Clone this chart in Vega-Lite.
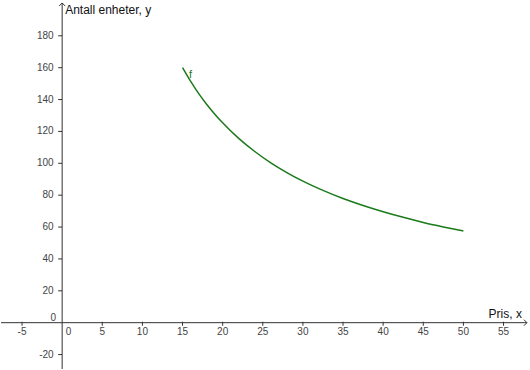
{
  "$schema": "https://vega.github.io/schema/vega-lite/v6.json",
  "width": 530,
  "height": 370,
  "autosize": {"type": "fit", "contains": "padding"},
  "padding": 0,
  "background": "white",
  "config": {"view": {"stroke": null}},
  "datasets": {
    "axisX": [{"x": -7.62, "x2": 57.92, "y": 0}],
    "axisY": [{"x": 0, "y": -29.06, "y2": 200.6}],
    "arrowX": [{"x": 57.92, "y": 0}],
    "arrowY": [{"x": 0, "y": 200.6}],
    "xTicks": [{"x": -5, "y": 0, "label": "-5"}, {"x": 5, "y": 0, "label": "5"}, {"x": 10, "y": 0, "label": "10"}, {"x": 15, "y": 0, "label": "15"}, {"x": 20, "y": 0, "label": "20"}, {"x": 25, "y": 0, "label": "25"}, {"x": 30, "y": 0, "label": "30"}, {"x": 35, "y": 0, "label": "35"}, {"x": 40, "y": 0, "label": "40"}, {"x": 45, "y": 0, "label": "45"}, {"x": 50, "y": 0, "label": "50"}, {"x": 55, "y": 0, "label": "55"}],
    "yTicks": [{"x": 0, "y": -20, "label": "-20"}, {"x": 0, "y": 20, "label": "20"}, {"x": 0, "y": 40, "label": "40"}, {"x": 0, "y": 60, "label": "60"}, {"x": 0, "y": 80, "label": "80"}, {"x": 0, "y": 100, "label": "100"}, {"x": 0, "y": 120, "label": "120"}, {"x": 0, "y": 140, "label": "140"}, {"x": 0, "y": 160, "label": "160"}, {"x": 0, "y": 180, "label": "180"}],
    "origin": [{"x": 0, "y": 0, "label": "0"}],
    "curve": [
      {"x": 15, "y": 160.1}, {"x": 16, "y": 151.6}, {"x": 17, "y": 143.9}, {"x": 18, "y": 137.1},
      {"x": 19, "y": 131.0}, {"x": 20, "y": 125.4}, {"x": 22, "y": 115.6}, {"x": 24, "y": 107.4},
      {"x": 26, "y": 100.3}, {"x": 28, "y": 94.2}, {"x": 30, "y": 88.8}, {"x": 32.5, "y": 83.0},
      {"x": 35, "y": 77.9}, {"x": 37.5, "y": 73.5}, {"x": 40, "y": 69.6}, {"x": 42.5, "y": 66.1},
      {"x": 45, "y": 62.9}, {"x": 47.5, "y": 60.1}, {"x": 50, "y": 57.5}
    ],
    "fLabel": [{"x": 15, "y": 160.1, "label": "f"}],
    "xTitle": [{"x": 57.92, "y": 0, "label": "Pris, x"}],
    "yTitle": [{"x": 0, "y": 200.6, "label": "Antall enheter, y"}]
  },
  "encoding": {
    "x": {"field": "x", "type": "quantitative", "scale": {"domain": [-7.62, 58.3], "nice": false, "zero": false}, "axis": null},
    "y": {"field": "y", "type": "quantitative", "scale": {"domain": [-29.06, 201.2], "nice": false, "zero": false}, "axis": null}
  },
  "layer": [
    {"data": {"name": "axisX"}, "mark": {"type": "rule", "color": "#333333", "strokeWidth": 1}, "encoding": {"x2": {"field": "x2"}}},
    {"data": {"name": "axisY"}, "mark": {"type": "rule", "color": "#333333", "strokeWidth": 1}, "encoding": {"y2": {"field": "y2"}}},
    {"data": {"name": "arrowX"}, "mark": {"type": "point", "shape": "M-1,-1L0,0L-1,1", "filled": false, "size": 36, "stroke": "#333333", "strokeWidth": 1, "opacity": 1}},
    {"data": {"name": "arrowY"}, "mark": {"type": "point", "shape": "M-1,1L0,0L1,1", "filled": false, "size": 36, "stroke": "#333333", "strokeWidth": 1, "opacity": 1}},
    {"data": {"name": "xTicks"}, "mark": {"type": "tick", "orient": "vertical", "size": 4, "thickness": 1, "color": "#333333", "opacity": 1, "yOffset": 1}},
    {"data": {"name": "yTicks"}, "mark": {"type": "tick", "orient": "horizontal", "size": 4, "thickness": 1, "color": "#333333", "opacity": 1, "xOffset": -2}},
    {"data": {"name": "xTicks"}, "mark": {"type": "text", "dy": 9, "baseline": "middle", "align": "center", "font": "Liberation Sans", "fontSize": 10, "color": "#444444"}, "encoding": {"text": {"field": "label"}}},
    {"data": {"name": "yTicks"}, "mark": {"type": "text", "dx": -8.5, "baseline": "middle", "align": "right", "font": "Liberation Sans", "fontSize": 10, "color": "#444444"}, "encoding": {"text": {"field": "label"}}},
    {"data": {"name": "origin"}, "mark": {"type": "text", "dx": 6.5, "dy": 9, "baseline": "middle", "align": "center", "font": "Liberation Sans", "fontSize": 10, "color": "#444444"}, "encoding": {"text": {"field": "label"}}},
    {"data": {"name": "origin"}, "mark": {"type": "text", "dx": -6, "dy": -4.5, "baseline": "middle", "align": "right", "font": "Liberation Sans", "fontSize": 10, "color": "#444444"}, "encoding": {"text": {"field": "label"}}},
    {"data": {"name": "curve"}, "mark": {"type": "line", "color": "#1a7a1a", "strokeWidth": 1.5, "interpolate": "monotone"}},
    {"data": {"name": "fLabel"}, "mark": {"type": "text", "dx": 8, "dy": 7, "baseline": "middle", "align": "center", "font": "Liberation Sans", "fontSize": 11, "color": "#1a7a1a"}, "encoding": {"text": {"field": "label"}}},
    {"data": {"name": "xTitle"}, "mark": {"type": "text", "dx": -5, "dy": -9, "baseline": "middle", "align": "right", "font": "Liberation Sans", "fontSize": 12, "color": "#111111"}, "encoding": {"text": {"field": "label"}}},
    {"data": {"name": "yTitle"}, "mark": {"type": "text", "dx": 3, "dy": 7, "baseline": "middle", "align": "left", "font": "Liberation Sans", "fontSize": 12, "color": "#111111"}, "encoding": {"text": {"field": "label"}}}
  ]
}
